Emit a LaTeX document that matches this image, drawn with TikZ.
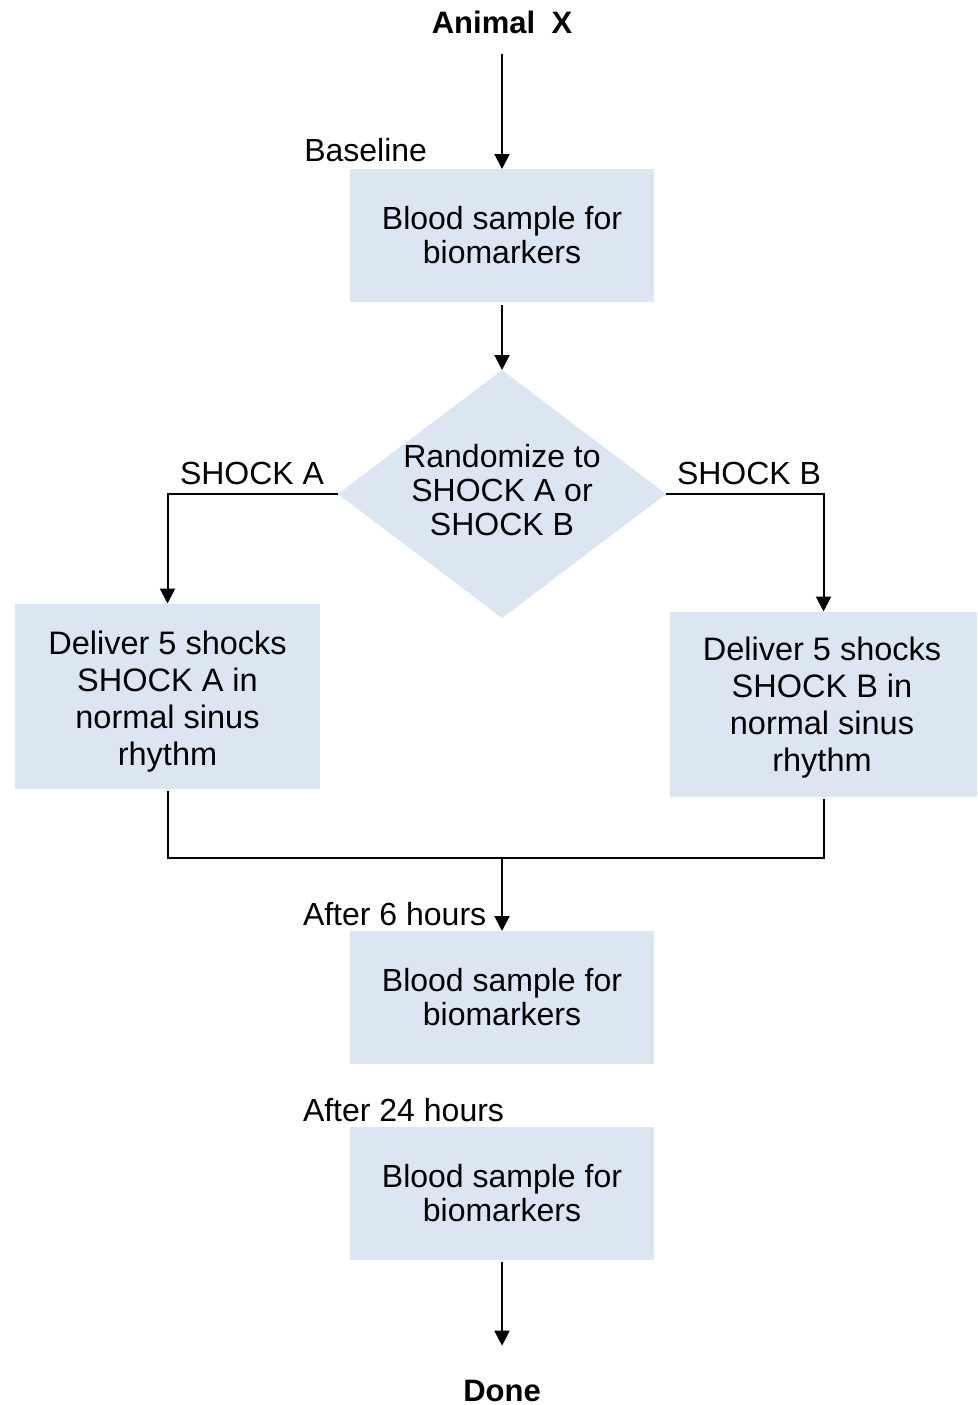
\documentclass[tikz,border=0pt]{standalone}
\usepackage{fontspec}
\setmainfont{Liberation Sans}
\usetikzlibrary{arrows.meta,shapes.geometric}
\definecolor{boxfill}{RGB}{220,230,242}
\begin{document}
\begin{tikzpicture}[x=1pt,y=-1pt,
  every node/.style={inner sep=0pt,outer sep=0pt},
  txt/.style={font=\fontsize{32}{34}\selectfont,align=center},
  stepbox/.style={txt,fill=boxfill,minimum width=304,minimum height=133},
  sidebox/.style={txt,fill=boxfill,minimum height=185,font=\fontsize{32.5}{37}\selectfont},
  title/.style={font=\fontsize{31}{34}\selectfont\bfseries},
  flow/.style={line width=2pt,black},
  arr/.style={flow,-{Triangle[length=15pt,width=15pt]}}]
\useasboundingbox (0,0) rectangle (977,1405);

% nodes
\node[title,anchor=base] (animal) at (502,34) {Animal\hspace{0.25em} X};
\node[stepbox] (base) at (502,235.5) {Blood sample for\\biomarkers};
\node[diamond,fill=boxfill,minimum width=328,minimum height=248] (rand) at (502,494) {};
\node[txt] (randtext) at (502,490) {Randomize to\\SHOCK A or\\SHOCK B};
\node[sidebox,minimum width=305] (shockA) at (167.5,696) {};
\node[txt,font=\fontsize{32.5}{37}\selectfont] (shockAtext) at (167.5,702) {Deliver 5 shocks\\SHOCK A in\\normal sinus\\rhythm};
\node[sidebox,minimum width=307] (shockB) at (823.5,704) {};
\node[txt,font=\fontsize{32.5}{37}\selectfont] (shockBtext) at (822,708) {Deliver 5 shocks\\SHOCK B in\\normal sinus\\rhythm};
\node[stepbox] (six) at (502,997.5) {Blood sample for\\biomarkers};
\node[stepbox] (day) at (502,1193.5) {Blood sample for\\biomarkers};
\node[title,anchor=base] (done) at (502,1401) {Done};

% labels
\node[txt,anchor=base east] (lblbase) at (427,161) {Baseline};
\node[txt,anchor=base west] (lblA) at (180,484) {SHOCK A};
\node[txt,anchor=base west] (lblB) at (677,484) {SHOCK B};
\node[txt,anchor=base west] (lblsix) at (303,925) {After 6 hours};
\node[txt,anchor=base west] (lblday) at (303,1121) {After 24 hours};

\coordinate (merge) at (502,858);

% connectors
\draw[arr,shorten <=20pt] (animal.south) -- (base.north);
\draw[arr,shorten <=3pt] (base.south) -- (rand.north);
\draw[arr] (rand.west) -| (shockA.north);
\draw[arr] (rand.east) -| (shockB.north);
\draw[flow,shorten <=2pt] (shockA.south) |- (merge);
\draw[flow,shorten >=2pt] (merge) -| (shockB.south);
\draw[arr] (merge) -- (six.north);
\draw[arr,shorten <=2pt,shorten >=34pt] (day.south) -- (done.north);
\end{tikzpicture}
\end{document}
